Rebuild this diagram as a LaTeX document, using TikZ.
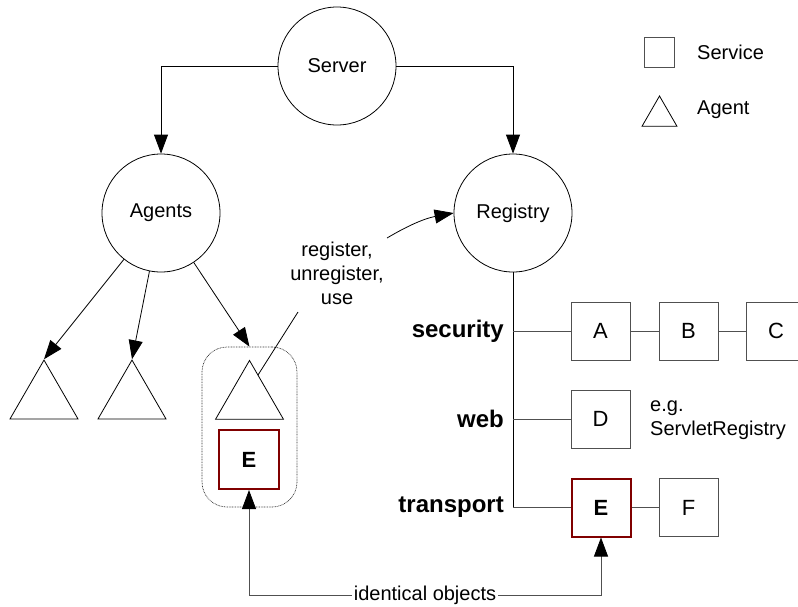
\documentclass[tikz,border=0pt]{standalone}
\usepackage{fontspec}
\setmainfont{Liberation Sans}
\usetikzlibrary{arrows.meta,shapes.geometric}
\definecolor{darkred}{RGB}{128,0,0}
\definecolor{boxgray}{RGB}{80,80,80}
\begin{document}
\begin{tikzpicture}[x=1pt,y=-1pt,
  txt/.style={font=\fontsize{20}{24}\selectfont, inner sep=0pt, align=center},
  circ/.style={draw, circle, minimum size=118pt, inner sep=0pt, line width=0.8pt, font=\fontsize{20}{24}\selectfont},
  svc/.style={draw=boxgray, line width=0.9pt, minimum width=59pt, minimum height=58pt, inner sep=0pt, font=\fontsize{22}{26}\selectfont},
  svcred/.style={draw=darkred, line width=2pt, minimum width=59pt, minimum height=58pt, inner sep=0pt, font=\bfseries\fontsize{22}{26}\selectfont},
  agt/.style={draw, regular polygon, regular polygon sides=3, minimum size=78.5pt, inner sep=0pt, line width=0.8pt},
  lab/.style={font=\bfseries\fontsize{24}{28}\selectfont, inner sep=0pt, anchor=east},
  arr/.style={line width=0.8pt, -{Triangle[length=19pt,width=14pt,color=black]}},
  gline/.style={draw=boxgray, line width=0.9pt}
]
\useasboundingbox (0,0) rectangle (798,606);

% circles
\node[circ] (sv) at (337,66) {Server};
\node[circ] (ag) at (161,213) {Agents};
\node[circ] (rg) at (513,213) {Registry};

\draw[arr] (sv.west) -| (ag.north);
\draw[arr] (sv.east) -| (rg.north);

% agents
\node[agt] (t1) at (44,399.3) {};
\node[agt] (t2) at (132,399.3) {};
\node[draw=black!80, dash pattern=on 0.8pt off 0.8pt, line width=0.7pt, rounded corners=25pt, minimum width=95pt, minimum height=160pt, inner sep=0pt] (grp) at (249.5,427) {};
\node[agt] (t3) at (249.5,399.7) {};
\node[svcred, minimum width=60pt, minimum height=59pt] (E1) at (249,459.5) {E};

\draw[arr] (ag) -- (t1.corner 1);
\draw[arr] (ag) -- (t2.corner 1);
\draw[arr] (ag) -- (grp.north);

% register text and connectors
\node[txt] (reg) at (337,273) {register,\\unregister,\\use};
\coordinate (u1) at (298,312);
\coordinate (u2) at (258,375);
\draw[line width=0.8pt] (u1) -- (u2);
\coordinate (c1) at (387,238);
\draw[arr] (c1) to[bend left=10] (rg.west);

% registry services
\node[svc] (A) at (600.5,331) {A};
\node[svc] (B) at (688.5,331) {B};
\node[svc] (C) at (776,331) {C};
\node[svc] (D) at (600.5,419) {D};
\node[svcred] (E2) at (601,507.5) {E};
\node[svc] (F) at (688.5,507.5) {F};

\node[lab] (lsec) at (504,331) {security};
\node[lab] (lweb) at (504,419) {web};
\node[lab] (ltr) at (504,507) {transport};

\coordinate (rb) at (513,507.5);
\draw[line width=0.9pt] (rg.south) -- (rb);
\draw[gline] (rb) -- (E2.west);
\draw[gline] (rg.south |- A.west) -- (A.west);
\draw[gline] (rg.south |- D.west) -- (D.west);
\draw[gline] (A) -- (B);
\draw[gline] (B) -- (C);
\draw[gline] (E2) -- (F);

\node[txt, align=left, anchor=west] (eg) at (650,420) {e.g.\\ServletRegistry};

% identical objects
\node[txt, inner sep=2pt] (id) at (425,595) {identical objects};
\draw[arr, draw=boxgray] (id.west) -| (E1.south);
\draw[arr, draw=boxgray] (id.east) -| (E2.south);

% legend
\node[draw=boxgray, line width=0.9pt, minimum size=30pt, inner sep=0pt] (lsq) at (659,52) {};
\node[txt, anchor=west] (lsvc) at (697,52) {Service};
\node[draw, regular polygon, regular polygon sides=3, minimum size=40.4pt, inner sep=0pt, line width=0.8pt] (ltri) at (659.5,116.2) {};
\node[txt, anchor=west] (lagt) at (697,110) {Agent};
\end{tikzpicture}
\end{document}
